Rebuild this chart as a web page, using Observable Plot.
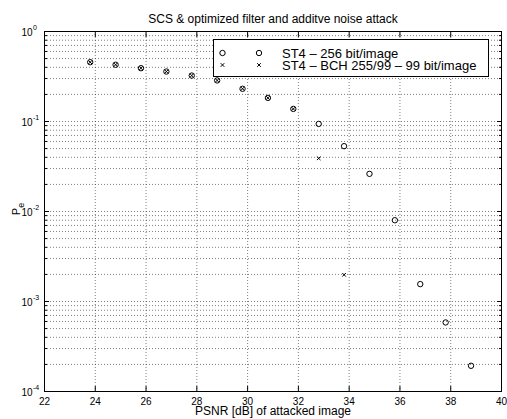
<!DOCTYPE html>
<html><head><meta charset="utf-8">
<script src="https://cdn.jsdelivr.net/npm/d3@7"></script>
<script src="https://cdn.jsdelivr.net/npm/@observablehq/plot@0.6"></script>
<style>
body{margin:0;background:#fff;}
#wrap{position:relative;width:507px;height:419px;font-family:"Liberation Sans",Arial,Helvetica,sans-serif;}
#legend{position:absolute;left:213px;top:39px;width:274px;height:36px;border:1px solid #000;background:#fff;box-sizing:content-box;}
#legend svg{display:block;}
</style></head><body><div id="wrap"></div>
<script>
const title = "SCS & optimized filter and additve noise attack";
const xLabel = "PSNR [dB] of attacked image";
const yLabelMain = "P";
const yLabelSub = "e";
const legendLabels = ["ST4 \u2013 256 bit/image", "ST4 \u2013 BCH 255/99 \u2013 99 bit/image"];

// Series 1: ST4 – 256 bit/image (circles)
const psnr256 = [23.8, 24.8, 25.8, 26.8, 27.8, 28.8, 29.8, 30.8, 31.8, 32.8, 33.8, 34.8, 35.8, 36.8, 37.8, 38.8];
const pe256   = [0.456, 0.427, 0.391, 0.359, 0.324, 0.286, 0.231, 0.183, 0.138, 0.094, 0.0532, 0.0262, 0.0080, 0.00156, 0.000585, 0.000193];
// Series 2: ST4 – BCH 255/99 – 99 bit/image (crosses)
const psnrBCH = [23.8, 24.8, 25.8, 26.8, 27.8, 28.8, 29.8, 30.8, 31.8, 32.8, 33.8];
const peBCH   = [0.456, 0.427, 0.391, 0.359, 0.324, 0.286, 0.231, 0.183, 0.138, 0.039, 0.00198];

const xTickLabels = [22, 24, 26, 28, 30, 32, 34, 36, 38, 40];
const xInnerTicks = [24, 26, 28, 30, 32, 34, 36, 38];
const yDecades = [1, 0.1, 0.01, 0.001, 0.0001];
const yExponents = ["0", "-1", "-2", "-3", "-4"];
const yMinor = [0.0001, 0.001, 0.01, 0.1].flatMap(d => [2,3,4,5,6,7,8,9].map(m => m * d));

const s256 = psnr256.map((x, i) => ({x, y: pe256[i]}));
const sBCH = psnrBCH.map((x, i) => ({x, y: peBCH[i]}));

const gridStyle = {stroke: "#000", strokeOpacity: 0.5, strokeDasharray: "1,2", strokeWidth: 1};
const font = "'Liberation Sans', Arial, Helvetica, sans-serif";

const plot = Plot.plot({
  width: 507, height: 419,
  marginLeft: 44, marginRight: 6, marginTop: 31, marginBottom: 28,
  style: {fontFamily: font, fontSize: "10px", background: "white", color: "#000", overflow: "visible"},
  x: {domain: [22, 40]},
  y: {type: "log", domain: [1e-4, 1]},
  marks: [
    Plot.ruleX(xInnerTicks, {x: d => d, ...gridStyle}),
    Plot.ruleY(yDecades.slice(1, 4).concat(yMinor), {y: d => d, ...gridStyle}),
    Plot.axisX({anchor: "bottom", ticks: xInnerTicks, tickSize: -5, tickFormat: () => "", label: null}),
    Plot.axisX({anchor: "top", ticks: xInnerTicks, tickSize: -5, tickFormat: () => "", label: null}),
    Plot.axisY({anchor: "left", ticks: yDecades, tickSize: -5, tickFormat: () => "", label: null}),
    Plot.axisY({anchor: "right", ticks: yDecades, tickSize: -5, tickFormat: () => "", label: null}),
    Plot.axisY({anchor: "left", ticks: yMinor, tickSize: -3, tickFormat: () => "", label: null}),
    Plot.axisY({anchor: "right", ticks: yMinor, tickSize: -3, tickFormat: () => "", label: null}),
    Plot.frame({stroke: "#000", strokeWidth: 1}),
    Plot.text(xTickLabels, {x: d => d, frameAnchor: "bottom", lineAnchor: "middle", dy: 9.8, text: d => String(d), fontSize: 10}),
    Plot.text(yDecades, {y: d => d, frameAnchor: "left", lineAnchor: "middle", dx: -12, dy: 1.5, textAnchor: "end", text: () => "10", fontSize: 10}),
    Plot.text(yDecades, {y: d => d, frameAnchor: "left", lineAnchor: "middle", dx: -11.5, dy: -4, textAnchor: "start", text: (d, i) => yExponents[i], fontSize: 7}),
    Plot.text([title], {frameAnchor: "top", lineAnchor: "middle", dy: -12.8, text: d => d, fontSize: 12}),
    Plot.text([xLabel], {frameAnchor: "bottom", lineAnchor: "middle", dy: 20, text: d => d, fontSize: 12}),
    Plot.dot(s256, {x: "x", y: "y", r: 2.7, symbol: "circle", stroke: "#000", strokeWidth: 1, fill: "none"}),
    Plot.dot(sBCH, {x: "x", y: "y", r: 1.8, symbol: "times", stroke: "#000", strokeWidth: 1})
  ]
});

const wrap = document.getElementById("wrap");
wrap.appendChild(plot);

// Y label "P_e" (rotated, with subscript)
const svg = d3.select(plot.tagName.toLowerCase() === "svg" ? plot : plot.querySelector("svg"));
const yl = svg.append("text")
  .attr("transform", "translate(19.5,209) rotate(-90)")
  .attr("text-anchor", "middle")
  .attr("font-family", font)
  .attr("font-size", 11)
  .attr("fill", "#000");
yl.append("tspan").text(yLabelMain);
yl.append("tspan").attr("dy", 4).attr("font-size", 9).text(yLabelSub);

// Legend
const leg = document.createElement("div");
leg.id = "legend";
wrap.appendChild(leg);
const lsvg = d3.select(leg).append("svg").attr("width", 274).attr("height", 36)
  .style("font-family", font);
const rows = [
  {sym: d3.symbolCircle, size: Math.PI * 2.7 * 2.7, y: 13, label: legendLabels[0]},
  {sym: d3.symbolTimes, size: Math.PI * 1.8 * 1.8, y: 25, label: legendLabels[1]}
];
rows.forEach(r => {
  [8.5, 45].forEach(x => {
    lsvg.append("path").attr("d", d3.symbol(r.sym, r.size)())
      .attr("transform", `translate(${x},${r.y})`)
      .attr("fill", "none").attr("stroke", "#000").attr("stroke-width", 1);
  });
  lsvg.append("text").attr("x", 68).attr("y", r.y + 4.5).attr("font-size", 13).text(r.label);
});
</script>
</body></html>
